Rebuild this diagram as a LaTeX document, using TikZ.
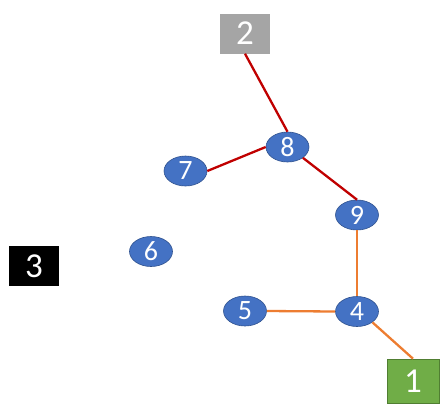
\documentclass[tikz,border=0pt]{standalone}
\usepackage{fontspec}
\setmainfont{Carlito}
\usepackage{tikz}
\usetikzlibrary{shapes.geometric}
\definecolor{nodeblue}{HTML}{4472C4}
\definecolor{nodeedge}{HTML}{2F528F}
\definecolor{redline}{HTML}{C00000}
\definecolor{orangeline}{HTML}{ED7D31}
\definecolor{boxgreen}{HTML}{70AD47}
\definecolor{boxgreenedge}{HTML}{507E32}
\definecolor{boxgray}{HTML}{A5A5A5}

\begin{document}
\begin{tikzpicture}[x=1pt,y=-1pt,
  vert/.style={ellipse,draw=nodeedge,line width=0.6pt,fill=nodeblue,text=white,
    minimum width=43pt,minimum height=30pt,inner sep=0pt,font=\fontsize{28}{28}\selectfont},
  term/.style={rectangle,text=white,minimum width=50pt,minimum height=40pt,
    inner sep=0pt,font=\fontsize{35}{35}\selectfont},
  redge/.style={draw=redline,line width=2.3pt},
  oedge/.style={draw=orangeline,line width=2.3pt}]
\useasboundingbox (0,0) rectangle (441,408);
\node[term,fill=boxgray] (t2) at (245,33.5) {2};
\node[term,fill=black] (t3) at (34,266) {3};
\node[term,fill=boxgreen,draw=boxgreenedge,line width=0.6pt,minimum width=52pt,minimum height=44pt] (t1) at (413,381) {1};
\node[vert] (v8) at (287.5,147) {8};
\node[vert] (v7) at (185.5,171) {7};
\node[vert] (v9) at (357,215) {9};
\node[vert] (v6) at (151,251.5) {6};
\node[vert] (v5) at (245,311) {5};
\node[vert] (v4) at (357,311.5) {4};
\draw[redge] (t2.south) -- (v8.north);
\draw[redge] (v7.east) -- (v8.west);
\draw[redge] (v8.south east) -- (v9.north);
\draw[oedge] (v9.south) -- (v4.north);
\draw[oedge] (v5.east) -- (v4.west);
\draw[oedge] (v4.south east) -- (t1.north);
\end{tikzpicture}
\end{document}
